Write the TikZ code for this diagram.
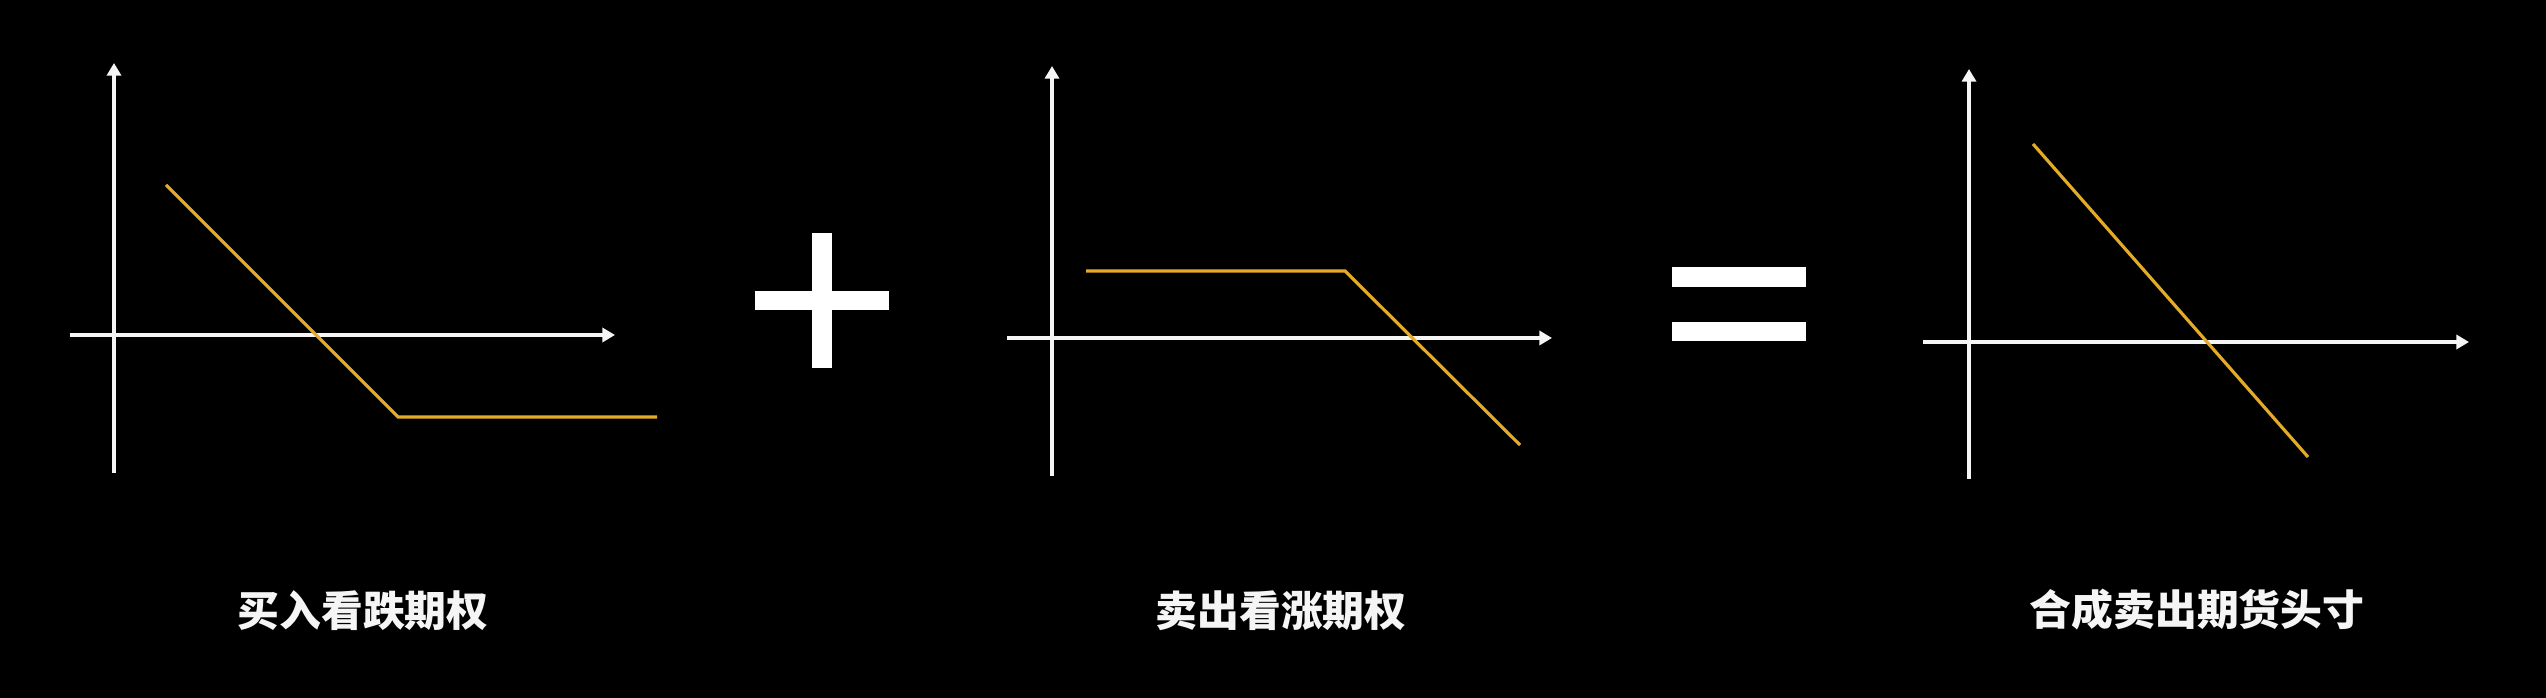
\documentclass[tikz,border=0pt]{standalone}
\usepackage{fontspec}
\newfontfamily\cjk{Noto Sans CJK SC}
\usetikzlibrary{arrows.meta}
\definecolor{payoff}{RGB}{228,172,38}
\definecolor{axiswhite}{RGB}{245,245,245}
\tikzset{
  axisline/.style={draw=axiswhite, line width=1.15pt, -{Triangle[length=3.6pt,width=4pt]}},
  payline/.style={draw=payoff, line width=0.9pt, line join=miter},
  bar/.style={fill=white},
  caption/.style={text=axiswhite, font=\cjk\bfseries\fontsize{11.9pt}{14pt}\selectfont, inner sep=0pt, anchor=center}
}
\begin{document}
\begin{tikzpicture}[x=0.01cm,y=-0.01cm]
\fill[black] (0,0) rectangle (2546,698);
\useasboundingbox (0,0) rectangle (2546,698);
% panel 1
\coordinate (a1b) at (114,473); \coordinate (a1t) at (114,63);
\coordinate (x1l) at (70,335);  \coordinate (x1r) at (615,335);
\coordinate (p1a) at (166,185); \coordinate (p1k) at (398,417); \coordinate (p1e) at (657,417);
\draw[axisline] (a1b) -- (a1t);
\draw[axisline] (x1l) -- (x1r);
\draw[payline] (p1a) -- (p1k) -- (p1e);
% panel 2
\coordinate (a2b) at (1052,476); \coordinate (a2t) at (1052,66);
\coordinate (x2l) at (1007,338); \coordinate (x2r) at (1552,338);
\coordinate (p2a) at (1086,271); \coordinate (p2k) at (1345,271); \coordinate (p2e) at (1520,445);
\draw[axisline] (a2b) -- (a2t);
\draw[axisline] (x2l) -- (x2r);
\draw[payline] (p2a) -- (p2k) -- (p2e);
% panel 3
\coordinate (a3b) at (1969,479); \coordinate (a3t) at (1969,69);
\coordinate (x3l) at (1923,342); \coordinate (x3r) at (2469,342);
\coordinate (p3a) at (2033,144); \coordinate (p3e) at (2308,457);
\draw[axisline] (a3b) -- (a3t);
\draw[axisline] (x3l) -- (x3r);
\draw[payline] (p3a) -- (p3e);
% plus
\fill[bar] (812,233) rectangle (832,368);
\fill[bar] (755,291) rectangle (889,310);
% equals
\fill[bar] (1672,267) rectangle (1806,287);
\fill[bar] (1672,322) rectangle (1806,341);
% captions
\node[caption] (c1) at (363,611) {买入看跌期权};
\node[caption] (c2) at (1281,611) {卖出看涨期权};
\node[caption] (c3) at (2197,610) {合成卖出期货头寸};
\end{tikzpicture}
\end{document}
